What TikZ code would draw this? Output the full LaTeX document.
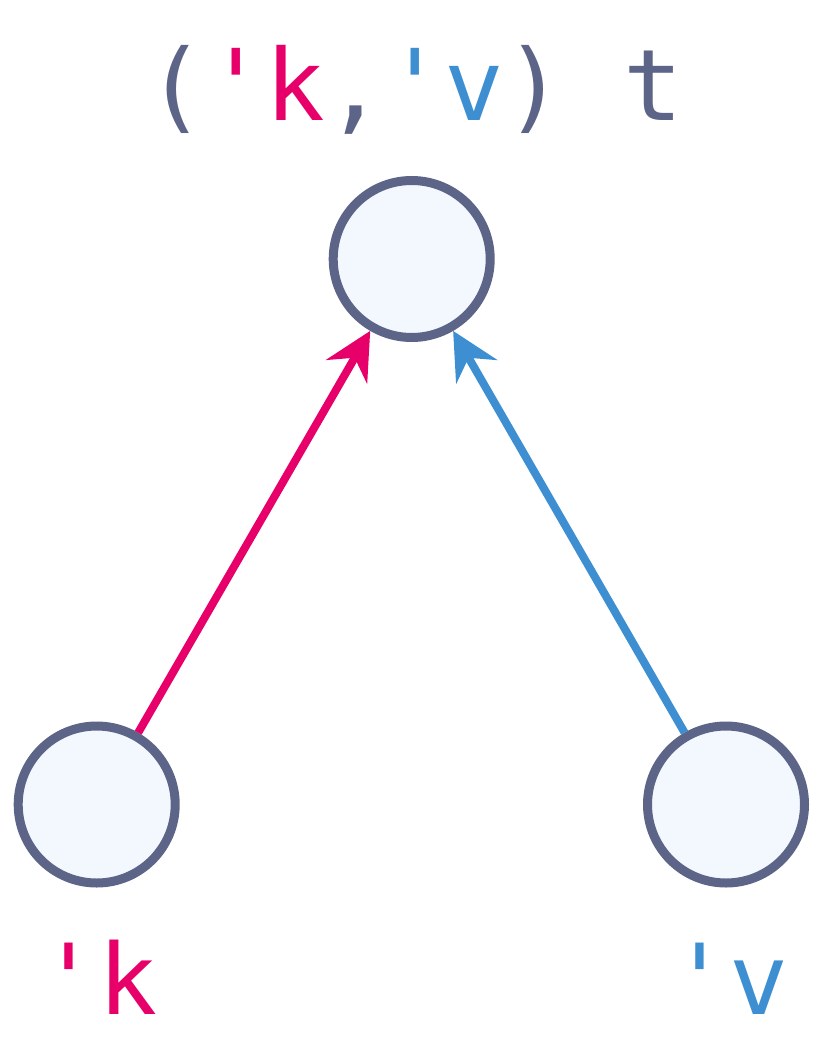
\documentclass[tikz,border=0pt]{standalone}
\usepackage{fontspec}
\setmonofont{DejaVu Sans Mono}
\usetikzlibrary{arrows.meta}
\definecolor{ink}{RGB}{92,100,135}
\definecolor{pinkc}{RGB}{232,0,106}
\definecolor{bluec}{RGB}{61,143,209}
\definecolor{fillc}{RGB}{243,247,254}
\tikzset{
  vert/.style={circle, draw=ink, fill=fillc, line width=9pt, minimum size=157pt, inner sep=0pt},
  edge/.style={line width=8pt, -{Stealth[length=47pt, width=47pt, inset=16pt]}},
  lbl/.style={anchor=base, inner sep=0pt, font=\ttfamily\fontsize{#1}{#1}\selectfont},
}
\begin{document}
\begin{tikzpicture}[x=1pt, y=-1pt]
\useasboundingbox (0,0) rectangle (823,1051);
\node[vert] (t) at (411.7,259) {};
\node[vert] (k) at (96.7,804.5) {};
\node[vert] (v) at (726,804.5) {};
\draw[edge, pinkc] (k) -- (t);
\draw[edge, bluec] (v) -- (t);
\node[lbl=99, text=ink] (tl) at (415,121) {(\textcolor{pinkc}{'k},\textcolor{bluec}{'v}) t};
\node[lbl=98, text=pinkc] (kl) at (99,1014) {'k};
\node[lbl=98, text=bluec] (vl) at (729,1014) {'v};
\end{tikzpicture}
\end{document}
